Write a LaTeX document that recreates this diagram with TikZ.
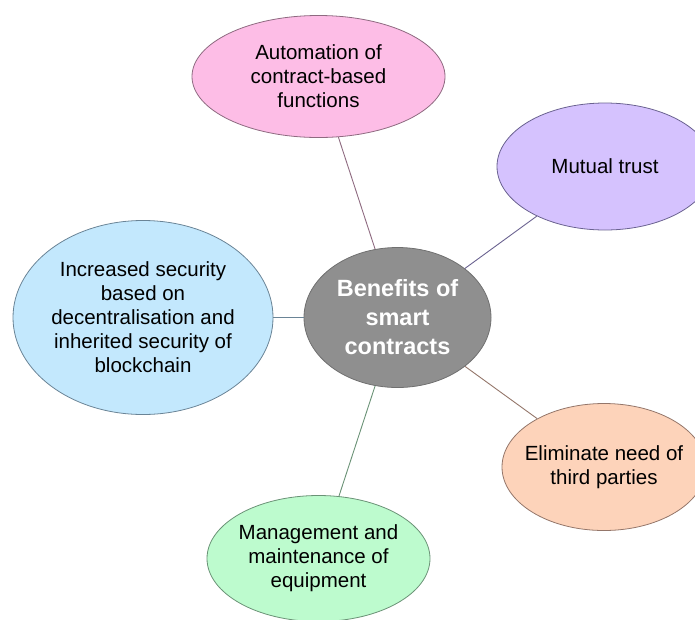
\documentclass[tikz,border=0pt]{standalone}
\usepackage{fontspec}
\setmainfont{Liberation Sans}
\usetikzlibrary{shapes.geometric}
\definecolor{pinkF}{HTML}{FDBDE6}
\definecolor{pinkD}{HTML}{8E6A80}
\definecolor{purpF}{HTML}{D5C2FE}
\definecolor{purpD}{HTML}{6A6290}
\definecolor{grayF}{HTML}{8F8F8F}
\definecolor{grayD}{HTML}{707070}
\definecolor{orngF}{HTML}{FDD3BA}
\definecolor{orngD}{HTML}{94766A}
\definecolor{grnF}{HTML}{BDFBCE}
\definecolor{grnD}{HTML}{6A9276}
\definecolor{bluF}{HTML}{C3E8FD}
\definecolor{bluD}{HTML}{6A8496}
\tikzset{
  bubble/.style={ellipse, inner sep=-20pt, align=center, line width=0.8pt,
    font=\fontsize{20.5}{24}\selectfont},
  link/.style={line width=0.9pt}
}
\begin{document}
\begin{tikzpicture}[x=1pt,y=-1pt]
\useasboundingbox (0,0) rectangle (695,619);
\clip (0,0) rectangle (695,619);
\node[bubble, draw=pinkD, fill=pinkF, minimum width=253, minimum height=122] (auto) at (318.5,76.5) {Automation of\\contract-based\\functions};
\node[bubble, draw=purpD, fill=purpF, minimum width=216, minimum height=127] (trust) at (605,166.5) {Mutual trust};
\node[bubble, draw=bluD, fill=bluF, minimum width=260, minimum height=194] (sec) at (143,317.5) {Increased security\\based on\\decentralisation and\\inherited security of\\blockchain};
\node[bubble, draw=grayD, fill=grayF, minimum width=187, minimum height=140, text=white, font=\bfseries\fontsize{23.5}{29}\selectfont] (ctr) at (397.5,317.5) {Benefits of\\smart\\contracts};
\node[bubble, draw=orngD, fill=orngF, minimum width=204, minimum height=127] (third) at (604,467) {Eliminate need of\\third parties};
\node[bubble, draw=grnD, fill=grnF, minimum width=223, minimum height=126] (equip) at (318.5,558.5) {Management and\\maintenance of\\equipment};
\draw[link, draw=pinkD] (auto) -- (ctr);
\draw[link, draw=purpD] (trust) -- (ctr);
\draw[link, draw=bluD] (sec) -- (ctr);
\draw[link, draw=orngD] (third) -- (ctr);
\draw[link, draw=grnD] (equip) -- (ctr);
\end{tikzpicture}
\end{document}
